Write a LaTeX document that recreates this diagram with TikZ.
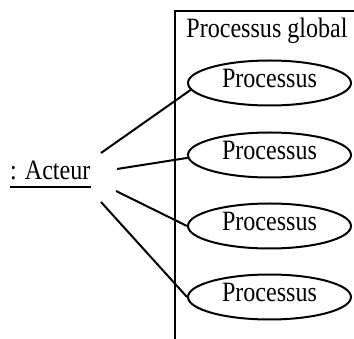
\documentclass[tikz,border=0pt]{standalone}
\usepackage{fontspec}
\setmainfont{Liberation Serif}[FakeStretch=0.86]
\usetikzlibrary{shapes.geometric}
\begin{document}
\begin{tikzpicture}[x=1pt,y=-1pt,
  every node/.style={font=\fontsize{28}{32}\selectfont},
  proc/.style={ellipse,draw,line width=2pt,minimum width=163pt,minimum height=45pt,
    inner sep=0pt,text height=19pt,text depth=9pt},
  conn/.style={line width=2pt},
  frame/.style={line width=1.6pt}]
\useasboundingbox (0,0) rectangle (354,339);
\draw[frame] (175,339) -- (175,11) -- (354,11);
\node[anchor=base,inner sep=0pt] (title) at (267,38) {Processus global};
\node[proc] (e1) at (269.5,83) {Processus};
\node[proc] (e2) at (269.5,155) {Processus};
\node[proc] (e3) at (269.5,226) {Processus};
\node[proc] (e4) at (269.5,297) {Processus};
\node[anchor=base west,inner sep=0pt] (act) at (10,180) {: Acteur};
\draw[line width=1.3pt] ([yshift=-7pt]act.base west) -- ([yshift=-7pt]act.base east);
\coordinate (s1) at (101,153);
\coordinate (s2) at (117,169);
\coordinate (s3) at (116,191);
\coordinate (s4) at (101,202);
\draw[conn] (s1) -- (e1.185);
\draw[conn] (s2) -- (e2.182);
\draw[conn] (s3) -- (e3.180);
\draw[conn] (s4) -- (e4.180);
\end{tikzpicture}
\end{document}
